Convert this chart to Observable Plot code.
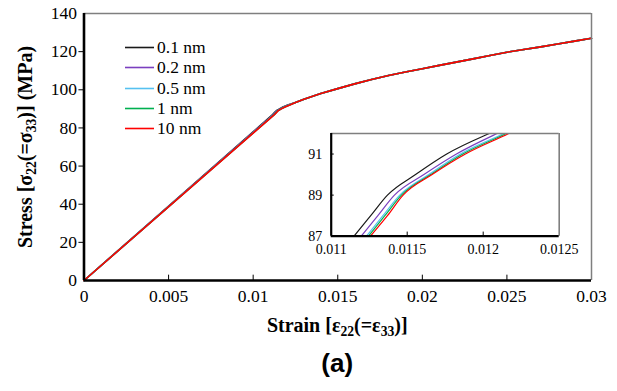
<!DOCTYPE html>
<html><head><meta charset="utf-8">
<script src="https://cdn.jsdelivr.net/npm/d3@7"></script>
<script src="https://cdn.jsdelivr.net/npm/@observablehq/plot@0.6"></script>
<style>
body{margin:0;background:#fff;}
#wrap{position:relative;width:617px;height:391px;font-family:"Liberation Serif","Times New Roman",serif;color:#000;overflow:hidden;}
#wrap svg{position:absolute;}
.ttl{position:absolute;font-weight:bold;font-size:20px;line-height:20px;height:20px;text-align:center;white-space:nowrap;}
.ttl sub{font-size:0.68em;vertical-align:-0.32em;line-height:0;}
.leg{position:absolute;left:125px;height:20px;line-height:20px;font-size:17.5px;white-space:nowrap;}
.leg svg{position:static !important;vertical-align:top;}
#lab{position:absolute;left:83.5px;width:507.5px;top:348px;height:30px;line-height:30px;text-align:center;font-family:"Liberation Sans",Arial,sans-serif;font-weight:bold;font-size:26px;}
</style></head><body><div id="wrap"></div>
<script>
const seriesNames = ["0.1 nm", "0.2 nm", "0.5 nm", "1 nm", "10 nm"];
const seriesColors = ["#1a1a1a", "#7b3fbf", "#56c1f0", "#00b050", "#ff0000"];
const kneeStress = [87, 88, 89, 90, 91, 92];
const kneeStrain = [
  [0.01115, 0.01126, 0.01137, 0.011555, 0.01176, 0.01204],
  [0.011197, 0.011307, 0.011416, 0.01161, 0.011824, 0.012092],
  [0.011232, 0.01134, 0.011451, 0.011642, 0.01185, 0.012136],
  [0.011245, 0.011353, 0.011462, 0.011655, 0.011866, 0.012152],
  [0.011258, 0.01137, 0.011473, 0.011664, 0.011883, 0.012168]
];
const upperStrain = [0.0125, 0.013, 0.014, 0.015, 0.016, 0.017, 0.018, 0.019, 0.020, 0.021, 0.022, 0.023, 0.024, 0.025, 0.026, 0.027, 0.028, 0.029, 0.030];
const upperStress = [93.3, 95.0, 98.0, 100.6, 103.1, 105.4, 107.5, 109.3, 111.0, 112.8, 114.5, 116.2, 118.0, 119.7, 121.1, 122.5, 124.0, 125.5, 127.0];
const xTicks = [0, 0.005, 0.01, 0.015, 0.02, 0.025, 0.03];
const yTicks = [0, 20, 40, 60, 80, 100, 120, 140];
const insetXTicks = [0.011, 0.0115, 0.012, 0.0125];
const insetYTicks = [87, 89, 91];

const rows = seriesNames.flatMap((s, i) => [
  {s, x: 0, y: 0},
  ...kneeStress.map((y, j) => ({s, x: kneeStrain[i][j], y})),
  ...upperStrain.map((x, j) => ({s, x, y: upperStress[j]}))
]);
const fmt = d => String(d);
const wrap = document.getElementById("wrap");

const main = Plot.plot({
  width: 617, height: 391,
  marginLeft: 83.5, marginRight: 26, marginTop: 13, marginBottom: 111,
  x: {domain: [0, 0.03], label: null},
  y: {domain: [0, 140], label: null},
  color: {domain: seriesNames, range: seriesColors},
  style: {fontFamily: "Liberation Serif, serif", fontSize: "17.5px", color: "#000", background: "transparent"},
  marks: [
    Plot.line(rows, {x: "x", y: "y", stroke: "s", strokeWidth: 1.6}),
    Plot.ruleY([140], {stroke: "#7f7f7f", strokeWidth: 1.5}),
    Plot.ruleX([0.03], {stroke: "#7f7f7f", strokeWidth: 1.5}),
    Plot.ruleX(xTicks.slice(1, -1), {y1: 0, y2: 2.8, stroke: "#000", strokeWidth: 1}),
    Plot.ruleY(yTicks.slice(1, -1), {x1: -0.0003, x2: 0, stroke: "#000", strokeWidth: 1}),
    Plot.axisX({ticks: xTicks, tickSize: 0, tickPadding: 9, tickFormat: fmt, fontSize: 17.5}),
    Plot.axisY({ticks: yTicks, tickSize: 0, tickPadding: 7, tickFormat: fmt, fontSize: 17.5}),
    Plot.ruleX([0], {stroke: "#000", strokeWidth: 2.6}),
    Plot.ruleY([0], {stroke: "#000", strokeWidth: 2.6})
  ]
});
main.style.left = "0px"; main.style.top = "0px";
wrap.appendChild(main);

const inset = Plot.plot({
  width: 285, height: 145,
  marginLeft: 30.7, marginRight: 26.3, marginTop: 13, marginBottom: 29.3,
  x: {domain: [0.011, 0.0125], label: null},
  y: {domain: [87, 92], label: null},
  color: {domain: seriesNames, range: seriesColors},
  style: {fontFamily: "Liberation Serif, serif", fontSize: "14px", color: "#000", background: "transparent"},
  marks: [
    Plot.frame({fill: "#fff", stroke: null}),
    Plot.line(rows, {x: "x", y: "y", stroke: "s", strokeWidth: 1.2, curve: "monotone-x", clip: true}),
    Plot.ruleY([92], {stroke: "#7f7f7f", strokeWidth: 1.6}),
    Plot.ruleX([0.0125], {stroke: "#7f7f7f", strokeWidth: 1.6}),
    Plot.ruleX(insetXTicks.slice(1, -1), {y1: 87, y2: 87.2, stroke: "#000", strokeWidth: 1}),
    Plot.ruleY(insetYTicks.slice(1), {x1: 0.011, x2: 0.01102, stroke: "#000", strokeWidth: 1}),
    Plot.axisX({ticks: insetXTicks, tickSize: 0, tickPadding: 8, tickFormat: fmt, fontSize: 14}),
    Plot.axisY({ticks: insetYTicks, tickSize: 0, tickPadding: 9, tickFormat: fmt, fontSize: 14}),
    Plot.ruleX([0.011], {stroke: "#000", strokeWidth: 2.2}),
    Plot.ruleY([87], {stroke: "#000", strokeWidth: 2.2})
  ]
});
inset.style.left = "300px"; inset.style.top = "120px";
wrap.appendChild(inset);

// legend
seriesNames.forEach((s, i) => {
  const d = document.createElement("div");
  d.className = "leg";
  d.style.top = (37.3 + 20.1 * i) + "px";
  d.innerHTML = `<svg width="32" height="20"><line x1="0" x2="29" y1="10.5" y2="10.5" stroke="${seriesColors[i]}" stroke-width="1.6"/></svg><span>${s}</span>`;
  wrap.appendChild(d);
});

// axis titles
const xt = document.createElement("div");
xt.className = "ttl";
xt.style.left = "83.5px"; xt.style.width = "507.5px"; xt.style.top = "315px";
xt.innerHTML = "Strain [ε<sub>22</sub>(=ε<sub>33</sub>)]";
wrap.appendChild(xt);

const yt = document.createElement("div");
yt.className = "ttl";
yt.style.left = "-108.75px"; yt.style.width = "267px"; yt.style.top = "136.5px";
yt.style.transform = "rotate(-90deg)";
yt.innerHTML = "Stress [σ<sub>22</sub>(=σ<sub>33</sub>)] (MPa)";
wrap.appendChild(yt);

const lab = document.createElement("div");
lab.id = "lab";
lab.textContent = "(a)";
wrap.appendChild(lab);
</script>
</body></html>
